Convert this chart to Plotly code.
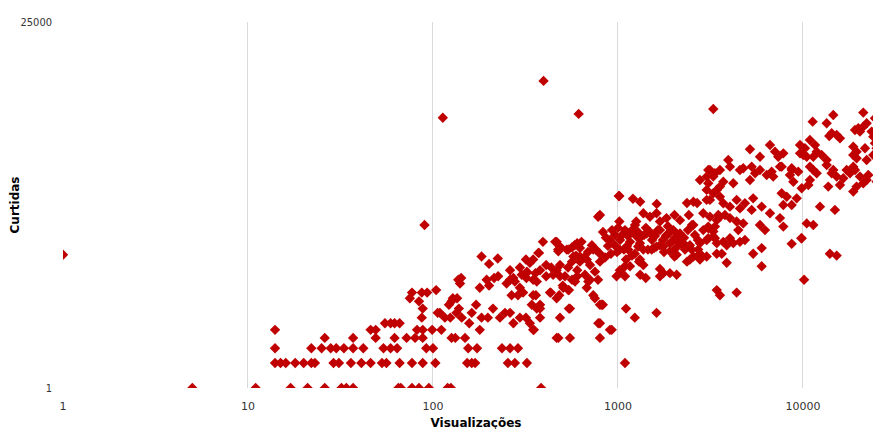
import plotly.graph_objects as go

# ---- data ----
views_low = [1, 5, 11, 17, 21, 26, 32, 34, 37, 65, 67, 77, 84, 95, 120, 125,
             14, 15, 16, 18, 20, 22, 23, 29, 31, 36, 41, 46, 53, 56, 66, 77, 88, 103,
             14, 22, 25, 28, 30, 33, 37, 42, 54, 59, 64, 92, 100,
             26, 37, 49, 62, 72, 80, 88,
             14, 46, 49, 82, 88, 99, 111,
             55, 59, 62, 66,
             87, 116, 124,
             106, 109, 88,
             84, 75, 77, 87, 93, 104, 90]
likes_low = [40, 1, 1, 1, 1, 1, 1, 1, 1, 1, 1, 1, 1, 1, 1, 1,
             2, 2, 2, 2, 2, 2, 2, 2, 2, 2, 2, 2, 2, 2, 2, 2, 2, 2,
             3, 3, 3, 3, 3, 3, 3, 3, 3, 3, 3, 3, 3,
             4, 4, 4, 4, 4, 4, 4,
             5, 5, 5, 5, 5, 5, 5,
             6, 6, 6, 6,
             7, 7, 7,
             8, 8, 9,
             11, 12, 14, 14, 14, 15, 91]

views_mid = [137, 142, 140, 183, 201, 224, 179, 201, 195, 214, 225,
             171, 162, 183, 198, 230, 211, 245, 261, 143, 134, 138, 157, 126, 132, 149, 179, 126, 122, 128, 135,
             153, 162, 169, 254, 277, 322,
             155, 173, 236, 261, 288,
             384,
             261, 277, 295, 266, 288, 295, 318, 334, 351, 360, 364, 358, 322, 334, 318, 295, 302, 320, 348, 371,
             393, 409, 379, 409, 436, 446, 433, 481, 503, 543, 466, 486, 458, 475, 529, 564, 602, 574, 602, 602,
             486, 466, 543, 379, 364,
             261, 272, 250, 307, 348, 342, 379, 429, 466, 506, 564, 678, 706, 750, 799, 828, 982, 1023, 1091,
             1105, 1233, 1616, 799, 905, 476, 379, 348, 272, 320, 348, 374, 466, 486, 476, 539, 583, 635, 623,
             678, 735, 799, 799, 781, 1010,
             735, 816, 550, 539, 486, 691, 783, 799, 925, 550, 1091]
likes_mid = [20, 21, 18, 38, 31, 36, 16, 17, 20, 21, 22,
             10, 8, 7, 7, 7, 9, 8, 8, 7, 8, 9, 6, 4, 4, 4, 5, 11, 10, 12, 12,
             2, 2, 2, 2, 2, 2,
             3, 3, 3, 3, 3,
             1,
             20, 19, 16, 13, 13, 7, 7, 6, 5, 13, 19, 24, 25, 32, 35, 28, 23, 21, 35, 42,
             57, 30, 26, 22, 28, 23, 14, 13, 17, 15, 26, 30, 57, 46, 46, 49, 55, 38, 26, 22,
             7, 4, 9, 9, 9,
             26, 21, 18, 14, 13, 10, 10, 14, 12, 16, 20, 16, 20, 12, 10, 10, 22, 26, 29,
             9, 7, 8, 6, 5, 4, 7, 5, 6, 24, 20, 42, 57, 50, 44, 46, 52, 57, 38,
             35, 46, 41, 120, 114, 203,
             13, 10, 9, 15, 22, 19, 6, 4, 5, 4, 2]

views_band = [1017, 1205, 1318, 1620, 1017, 1255, 1371, 1489, 1616, 1686, 1829, 2020, 2163, 2415, 2360, 2557,
              2679, 3016, 3275, 3420, 3558, 3016, 3142, 3343, 2774, 3077, 3077, 3275, 3077, 3420, 3558, 2714,
              2557, 2360, 2774, 3420, 3558, 1909, 2076, 2020, 1760, 1909, 2076, 1318, 1413, 1371, 1686, 1686,
              1045, 1091, 1161, 1105, 960, 1023, 1135, 1233, 1285,
              1429, 1552, 1686, 1833, 1991, 2163, 2254, 2350, 2502, 2774, 3016, 3275, 2890, 2553, 3420, 3420,
              3016, 2774, 2449, 2076, 1909, 1757, 1616, 1521, 1371, 1315, 1315, 1161, 1262,
              830, 861, 905, 883, 928, 964, 1000, 1026, 1052, 1091, 1132, 1161, 1119, 1077, 988, 916, 851,
              1191, 1236, 1282, 1315, 1384, 1416, 1489, 1528, 1585, 1644, 1686, 1750, 1816, 1862, 1909, 1959,
              2032, 2109, 2192, 2275, 2389, 2512, 2606, 2705, 2449, 2303, 2058, 1773, 1567, 1452, 1191, 1300,
              799, 760, 723, 688, 655, 623, 593, 564, 537, 517, 623, 706, 751, 663, 586, 780]
likes_band = [203, 188, 173, 163, 100, 100, 126, 114, 126, 100, 110, 120, 104, 120, 167, 173,
              167, 182, 219, 240, 263, 347, 417, 381, 316, 289, 87, 76, 63, 104, 114, 46,
              38, 33, 41, 15, 13, 44, 40, 38, 24, 24, 23, 23, 21, 30, 27, 22,
              24, 22, 29, 35, 52, 46, 46, 41, 50,
              72, 66, 79, 69, 79, 72, 55, 50, 46, 55, 60, 66, 79, 91, 55, 41,
              38, 35, 35, 60, 55, 50, 50, 46, 46, 55, 35, 72, 66,
              75, 64, 60, 51, 79, 69, 84, 60, 69, 79, 67, 57, 51, 46, 43, 41, 37,
              79, 91, 75, 64, 69, 84, 75, 60, 67, 79, 52, 60, 67, 88, 75, 57,
              64, 69, 54, 64, 79, 91, 69, 60, 52, 46, 48, 43, 48, 46, 39, 33,
              33, 46, 52, 43, 37, 48, 39, 33, 28, 22, 33, 30, 25, 23, 19, 20]

views_upper = [5170, 5855, 6632, 7063, 7350, 7830, 7511, 8690, 9430, 8870, 9250, 9840, 7670, 8170, 7830, 8690,
               7830, 8690, 9840, 5980, 5380, 5980, 4380, 3870, 3640,
               3077, 3275, 3558, 3947, 4030, 3710, 4200, 4564, 4755, 5280, 5510, 5170, 5855, 6365, 6905, 6770,
               7670, 8690, 8507, 3016, 3142, 3558, 3710, 4030, 4380, 4564, 4855, 5280, 5380, 2890, 3142, 3484,
               3787, 4030, 4380, 3077, 3343, 3343, 3710, 4030, 3870, 4200, 4564, 4855, 4470, 4755, 5980, 6632,
               7511, 5855, 6230]
likes_upper = [740, 600, 832, 692, 600, 660, 457, 417, 398, 301, 190, 251, 219, 199, 158, 158,
               87, 54, 63, 48, 41, 29, 14, 32, 41,
               417, 347, 417, 550, 457, 301, 289, 417, 437, 457, 381, 316, 417, 363, 347, 398,
               457, 437, 363, 240, 182, 199, 166, 151, 182, 144, 166, 138, 190, 126, 114, 120,
               120, 110, 100, 83, 87, 63, 57, 63, 52, 55, 57, 60, 79, 95, 151, 126,
               110, 91, 79]

views_top = [11280, 13430, 14580, 14290, 15210, 15850, 13870,
             21180, 24490, 22090, 21180, 19910, 19110, 20330, 23500, 23990, 24490, 26080,
             18700, 19500, 21640, 18700, 19500, 22090, 23990, 25000, 26080, 25530,
             9640, 10250, 10900, 11610, 11860, 12620, 13430, 11370, 10480, 9640, 10040,
             10900, 11370, 11860, 10900, 10690,
             13430, 14290, 15210, 14580, 13700, 15850, 16520, 17220, 17950, 18700, 19110, 20330, 22090,
             22540, 21180, 19500, 18700, 25000, 26080,
             12360, 14880, 10480, 11370, 9800, 13980, 15210, 10140]
likes_top = [1587, 1518, 1911, 1151, 1097, 1000, 1069,
             2037, 1744, 1518, 1382, 1322, 1262, 1205, 1205, 1048, 873, 957,
             795, 692, 760, 631, 576, 550, 631, 760, 725, 525,
             832, 760, 956, 832, 692, 631, 550, 600, 600, 660, 631,
             457, 417, 381, 316, 275,
             479, 381, 347, 417, 263, 275, 331, 417, 381, 457, 417, 347, 316,
             363, 289, 263, 229, 301, 316,
             151, 138, 95, 91, 63, 41, 39, 20]

views_outliers = [113, 396, 613, 3275]
likes_outliers = [1770, 4900, 1965, 2256]

x_ticks = [1, 10, 100, 1000, 10000]
x_tick_labels = ["1", "10", "100", "1000", "10000"]
y_ticks = [1, 25000]
y_tick_labels = ["1", "25000"]

views = views_low + views_mid + views_band + views_upper + views_top + views_outliers
likes = likes_low + likes_mid + likes_band + likes_upper + likes_top + likes_outliers

fig = go.Figure(go.Scatter(
    x=views, y=likes, mode="markers",
    marker=dict(symbol="diamond", size=8, color="#C00000", line=dict(width=0)),
    showlegend=False,
))

fig.update_layout(
    width=881, height=429,
    margin=dict(l=55, r=0, t=14, b=49, autoexpand=False),
    paper_bgcolor="white", plot_bgcolor="white",
    font=dict(family="DejaVu Sans", color="#404040"),
)
fig.update_xaxes(
    type="log", range=[0, 4.465], automargin=False,
    tickvals=x_ticks, ticktext=x_tick_labels,
    tickfont=dict(family="DejaVu Sans", size=11, color="#333333"),
    showgrid=True, gridcolor="#D9D9D9", gridwidth=1,
    zeroline=False, showline=False, ticks="", ticklabelstandoff=10,
    title=dict(text="<b>Visualizações</b>", font=dict(family="DejaVu Sans", size=12, color="black"), standoff=6),
)
fig.update_yaxes(
    type="log", range=[0, 4.39794], automargin=False,
    tickvals=y_ticks, ticktext=y_tick_labels,
    tickfont=dict(family="DejaVu Sans Condensed, Liberation Sans Narrow, DejaVu Sans", size=11, color="#333333"),
    showgrid=True, gridcolor="#D9D9D9", gridwidth=1,
    zeroline=False, showline=False, ticks="", ticklabelstandoff=10,
    title=dict(text="<b>Curtidas</b>", font=dict(family="DejaVu Sans", size=12, color="black"), standoff=0),
)

fig.write_html("out.html")
